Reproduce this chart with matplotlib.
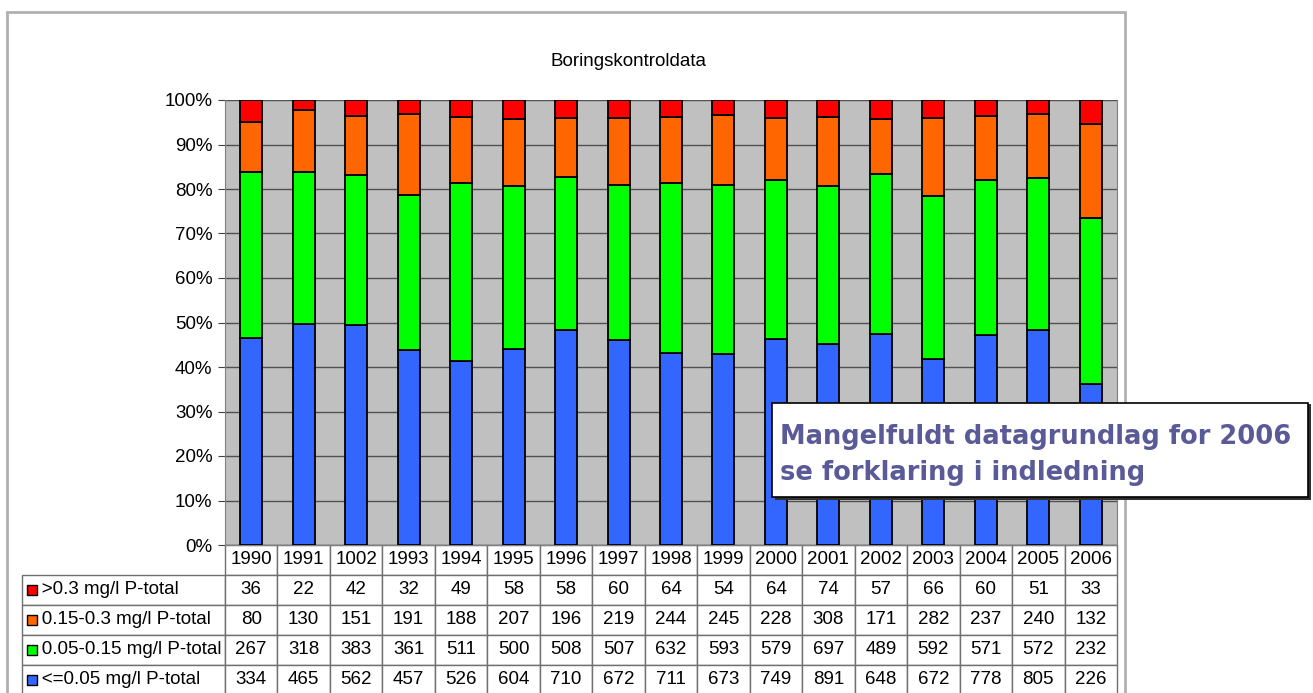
import numpy as np
import matplotlib
matplotlib.use('Agg')
from matplotlib import pyplot as plt
from matplotlib.table import Table
from matplotlib.patches import Rectangle
from matplotlib.ticker import PercentFormatter

# %% Data
years = ['1990', '1991', '1002', '1993', '1994', '1995', '1996', '1997', '1998',
         '1999', '2000', '2001', '2002', '2003', '2004', '2005', '2006']
labels = ['>0.3 mg/l P-total', '0.15-0.3 mg/l P-total',
          '0.05-0.15 mg/l P-total', '<=0.05 mg/l P-total']
over_03 = [36, 22, 42, 32, 49, 58, 58, 60, 64, 54, 64, 74, 57, 66, 60, 51, 33]
p015_03 = [80, 130, 151, 191, 188, 207, 196, 219, 244, 245, 228, 308, 171, 282,
           237, 240, 132]
p005_015 = [267, 318, 383, 361, 511, 500, 508, 507, 632, 593, 579, 697, 489,
            592, 571, 572, 232]
under_005 = [334, 465, 562, 457, 526, 604, 710, 672, 711, 673, 749, 891, 648,
             672, 778, 805, 226]
colours = ['#ff0000', '#ff6600', '#00ff00', '#3366ff']

W, H = 1313, 693
plt.rcParams['font.family'] = ['Liberation Sans', 'DejaVu Sans']

fig = plt.figure(figsize=(W / 100, H / 100), dpi=100)


def px(x0, y0, x1, y1):
    '''pixel box (top-left origin) -> figure fraction rect'''
    return [x0 / W, 1 - y1 / H, (x1 - x0) / W, (y1 - y0) / H]


# outer chart frame
fig.patches.append(Rectangle((7 / W, -0.05), (1125 - 7) / W, 1 - 12 / H + 0.05,
                             transform=fig.transFigure, fill=False,
                             edgecolor='#b0b0b0', lw=2))

ax_l, ax_r, ax_t, ax_b = 225, 1117, 100, 545
ax = fig.add_axes(px(ax_l, ax_t, ax_r, ax_b))
ax.set_facecolor('#c0c0c0')

series = np.array([under_005, p005_015, p015_03, over_03], dtype=float)
share = series / series.sum(axis=0)
x = np.arange(len(years))
bottom = np.zeros(len(years))
for vals, c in zip(share, colours[::-1]):
    ax.bar(x, vals, 0.42, bottom=bottom, color=c, edgecolor='black', lw=1.3,
           zorder=3)
    bottom += vals

ax.set_xlim(-0.5, len(years) - 0.5)
ax.set_ylim(0, 1)
ax.set_yticks(np.arange(0, 1.01, 0.1))
ax.yaxis.set_major_formatter(PercentFormatter(1.0, decimals=0))
ax.tick_params(axis='y', labelsize=13.5, length=5, color='#404040', pad=4)
ax.set_xticks([])
ax.grid(axis='y', color='#505050', lw=1, zorder=1)
for s in ax.spines.values():
    s.set_color('#808080')
ax.spines['top'].set_visible(False)

fig.text(628 / W, 1 - 62 / H, 'Boringskontroldata',
         ha='center', va='center', fontsize=13.5)

# %% data table under the axes
row_h = 30
tbl_l = 22
label_w = ax_l - tbl_l
col_w = (ax_r - ax_l) / len(years)
n_rows = 1 + len(labels)
tab_top, tab_bot = ax_b, ax_b + row_h * n_rows
ax_w, ax_h = ax_r - ax_l, ax_b - ax_t
tab = Table(ax, bbox=[(tbl_l - ax_l) / ax_w, -(tab_bot - ax_b) / ax_h,
                      (ax_r - tbl_l) / ax_w, (tab_bot - tab_top) / ax_h])
rows = [over_03, p015_03, p005_015, under_005]
tab.add_cell(0, 0, label_w, row_h, text='', edgecolor='none')
for j, yr in enumerate(years):
    tab.add_cell(0, j + 1, col_w, row_h, text=yr, loc='center')
for i, (lab, vals) in enumerate(zip(labels, rows)):
    tab.add_cell(i + 1, 0, label_w, row_h, text='   ' + lab, loc='left')
    for j, v in enumerate(vals):
        tab.add_cell(i + 1, j + 1, col_w, row_h, text=str(v), loc='center')
for cell in tab.get_celld().values():
    if cell.get_edgecolor()[3] > 0:
        cell.set_edgecolor('#707070')
    cell.set_linewidth(1)
    cell.PAD = 0.02
tab.auto_set_font_size(False)
tab.set_fontsize(13.5)
ax.add_table(tab)

# legend keys in the row labels
for i, c in enumerate(colours):
    yc = ax_b + row_h * (i + 1) + row_h / 2
    fig.patches.append(Rectangle(((tbl_l + 5) / W, 1 - (yc + 5) / H), 10 / W,
                                 10 / H, transform=fig.transFigure,
                                 facecolor=c, edgecolor='black', lw=1))

# %% note box
fig.patches.append(Rectangle((775 / W, 1 - 500 / H), (1311 - 775) / W,
                             (500 - 404) / H, transform=fig.transFigure,
                             facecolor='#303030', edgecolor='none', zorder=5))
fig.patches.append(Rectangle((772 / W, 1 - 497 / H), (1308 - 772) / W,
                             (497 - 403) / H, transform=fig.transFigure,
                             facecolor='white', edgecolor='black', lw=1.2,
                             zorder=6))
fig.text(780 / W, 1 - 455 / H,
         'Mangelfuldt datagrundlag for 2006\nse forklaring i indledning',
         ha='left', va='center', fontsize=18.5, fontweight='bold',
         family='DejaVu Sans', color='#5a5a98', linespacing=1.45, zorder=7)

fig.savefig('out.png', dpi=100)
